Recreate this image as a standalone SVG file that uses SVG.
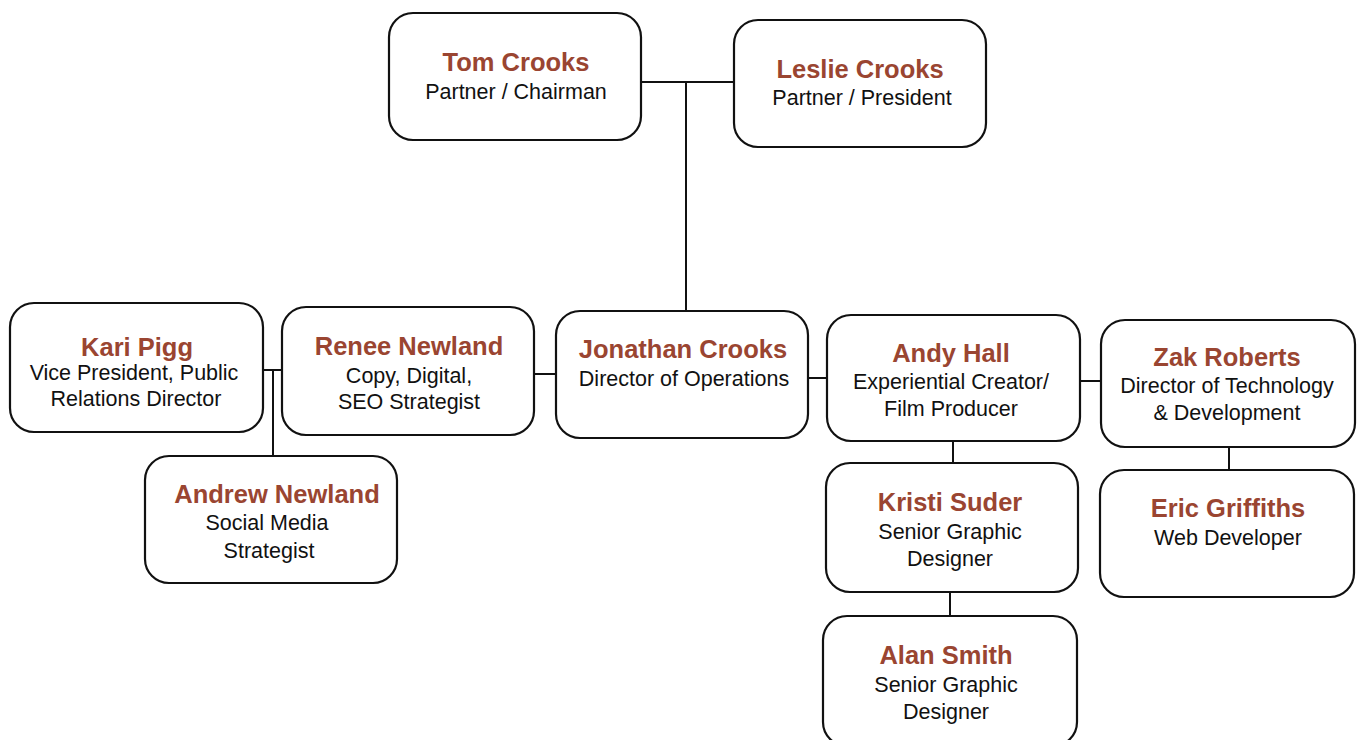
<svg xmlns="http://www.w3.org/2000/svg" width="1361" height="740" viewBox="0 0 1361 740">
<style>
.box{fill:#fff;stroke:#111;stroke-width:2.2}
.nm{font-family:"Liberation Sans",Arial,sans-serif;font-weight:bold;font-size:25.5px;fill:#9a4531;text-anchor:middle}
.tt{font-family:"Liberation Sans",Arial,sans-serif;font-size:21.5px;fill:#111;text-anchor:middle}
.ln{stroke:#111;stroke-width:2;fill:none}
</style>
<rect width="1361" height="740" fill="#fff"/>
<g id="connectors">
<path class="ln" d="M641 82H734M686 82V312"/>
<path class="ln" d="M263 370H282M273 370V456"/>
<path class="ln" d="M534 374H556"/>
<path class="ln" d="M808 378H827"/>
<path class="ln" d="M1080 381H1101"/>
<path class="ln" d="M953 441V463"/>
<path class="ln" d="M950 592V616"/>
<path class="ln" d="M1229 447V470"/>
</g>
<g id="tom"><rect class="box" x="389" y="13" width="252" height="127" rx="24"/><text class="nm" x="516" y="71">Tom Crooks</text><text class="tt" x="516" y="99">Partner / Chairman</text></g>
<g id="leslie"><rect class="box" x="734" y="20" width="252" height="127" rx="24"/><text class="nm" x="860" y="78">Leslie Crooks</text><text class="tt" x="862" y="105">Partner / President</text></g>
<g id="kari"><rect class="box" x="10" y="303" width="253" height="129" rx="24"/><text class="nm" x="137" y="356">Kari Pigg</text><text class="tt" x="134" y="380">Vice President, Public</text><text class="tt" x="136" y="406">Relations Director</text></g>
<g id="renee"><rect class="box" x="282" y="307" width="252" height="128" rx="24"/><text class="nm" x="409" y="355">Renee Newland</text><text class="tt" x="409" y="383">Copy, Digital,</text><text class="tt" x="409" y="409">SEO Strategist</text></g>
<g id="jonathan"><rect class="box" x="556" y="311" width="252" height="127" rx="24"/><text class="nm" x="683" y="358">Jonathan Crooks</text><text class="tt" x="684" y="386">Director of Operations</text></g>
<g id="andy"><rect class="box" x="827" y="315" width="253" height="126" rx="24"/><text class="nm" x="951" y="362">Andy Hall</text><text class="tt" x="951" y="389">Experiential Creator/</text><text class="tt" x="951" y="416">Film Producer</text></g>
<g id="zak"><rect class="box" x="1101" y="320" width="254" height="127" rx="24"/><text class="nm" x="1227" y="366">Zak Roberts</text><text class="tt" x="1227" y="393">Director of Technology</text><text class="tt" x="1227" y="420">&amp; Development</text></g>
<g id="andrew"><rect class="box" x="145" y="456" width="252" height="127" rx="24"/><text class="nm" x="277" y="503">Andrew Newland</text><text class="tt" x="267" y="530">Social Media</text><text class="tt" x="269" y="558">Strategist</text></g>
<g id="kristi"><rect class="box" x="826" y="463" width="252" height="129" rx="24"/><text class="nm" x="950" y="511">Kristi Suder</text><text class="tt" x="950" y="539">Senior Graphic</text><text class="tt" x="950" y="566">Designer</text></g>
<g id="eric"><rect class="box" x="1100" y="470" width="254" height="127" rx="24"/><text class="nm" x="1228" y="517">Eric Griffiths</text><text class="tt" x="1228" y="545">Web Developer</text></g>
<g id="alan"><rect class="box" x="823" y="616" width="254" height="130" rx="24"/><text class="nm" x="946" y="664">Alan Smith</text><text class="tt" x="946" y="692">Senior Graphic</text><text class="tt" x="946" y="719">Designer</text></g>
</svg>
